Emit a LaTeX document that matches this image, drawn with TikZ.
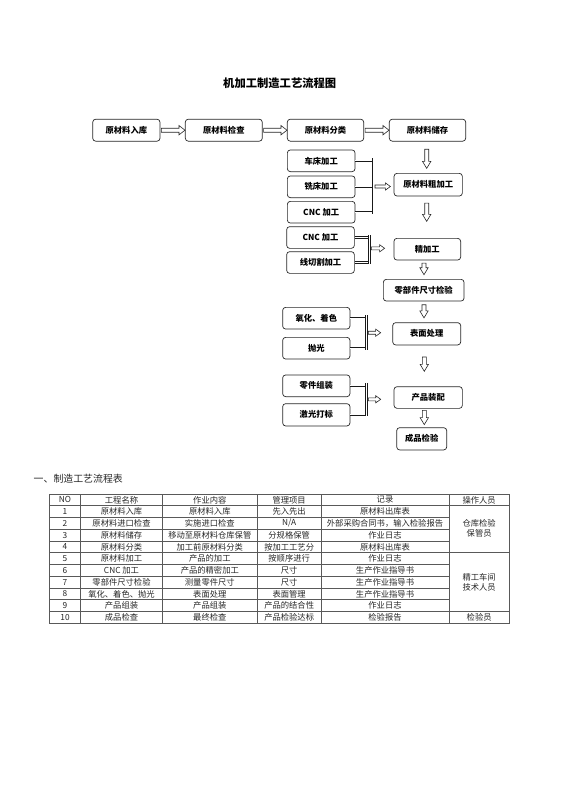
\documentclass[tikz,border=0pt]{standalone}
\usepackage{fontspec}
\setmainfont{Noto Sans CJK SC}
\usetikzlibrary{calc}
\def\mynatext{N/A}
\begin{document}
\begin{tikzpicture}[x=1pt,y=-1pt,
  box/.style={draw=black!85, line width=0.7pt, rounded corners=3pt, fill=white,
    font=\bfseries\fontsize{8.3}{9}\selectfont, inner sep=0pt, align=center, minimum height=22pt},
  dbl/.style={draw=black!90, line width=0.8pt, double=white, double distance=0.9pt},
  harrow/.style={draw=black!85, line width=0.6pt, fill=white, to path={
    let \p1=(\tikztostart), \p2=(\tikztotarget) in
    (\x1,\y1+2pt) -- (\x2-6pt,\y1+2pt) -- (\x2-6pt,\y1+4.7pt) -- (\x2,\y1)
    -- (\x2-6pt,\y1-4.7pt) -- (\x2-6pt,\y1-2pt) -- (\x1,\y1-2pt) -- cycle}},
  sarrow/.style={draw=black!85, line width=0.6pt, fill=white, to path={
    let \p1=(\tikztostart), \p2=(\tikztotarget) in
    (\x1,\y1+1.5pt) -- (\x2-5pt,\y1+1.5pt) -- (\x2-5pt,\y1+3.6pt) -- (\x2,\y1)
    -- (\x2-5pt,\y1-3.6pt) -- (\x2-5pt,\y1-1.5pt) -- (\x1,\y1-1.5pt) -- cycle}},
  varrow/.style={draw=black!85, line width=0.6pt, fill=white, to path={
    let \p1=(\tikztostart), \p2=(\tikztotarget) in
    (\x1-2pt,\y1) -- (\x1-2pt,\y2+7pt) -- (\x1-4.2pt,\y2+7pt) -- (\x1,\y2)
    -- (\x1+4.2pt,\y2+7pt) -- (\x1+2pt,\y2+7pt) -- (\x1+2pt,\y1) -- cycle}},
  tline/.style={draw=black!65, line width=0.6pt},
  ttext/.style={text=black!85, font=\fontsize{8.3}{10}\selectfont, inner sep=0pt, align=center}
]
\useasboundingbox (0,0) rectangle (560,792);

% title
\node[font=\bfseries\fontsize{11.3}{13}\selectfont] (title) at (279.7,83.3) {机加工制造工艺流程图};

% row 1
\node[box, minimum width=67.3pt] (b1) at (126.35,130.2) {原材料入库};
\node[box, minimum width=77pt]   (b2) at (223.8,130.2) {原材料检查};
\node[box, minimum width=76.4pt] (b3) at (325.5,130.2) {原材料分类};
\node[box, minimum width=76.4pt] (b4) at (427.5,130.2) {原材料储存};

% left column
\node[box, minimum width=67.7pt, minimum height=21.7pt] (c1) at (321.2,160.8) {车床加工};
\node[box, minimum width=67.7pt, minimum height=21.7pt] (c2) at (321.2,186.8) {铣床加工};
\node[box, minimum width=67.7pt, minimum height=21.7pt] (c3) at (321.2,212.2) {CNC 加工};
\node[box, minimum width=67.7pt, minimum height=21.7pt] (c4) at (320.5,237.5) {CNC 加工};
\node[box, minimum width=67.7pt, minimum height=21.7pt] (c5) at (320.5,262.5) {线切割加工};
\node[box, minimum width=67.3pt, minimum height=21.7pt] (c6) at (316.3,318.2) {氧化、着色};
\node[box, minimum width=67.3pt, minimum height=21.7pt] (c7) at (316.3,348.2) {抛光};
\node[box, minimum width=67.3pt, minimum height=21.7pt] (c8) at (316.3,385.8) {零件组装};
\node[box, minimum width=67.3pt, minimum height=22.3pt] (c9) at (316.3,414.8) {激光打标};

% right column
\node[box, minimum width=68.3pt, minimum height=22.7pt] (r1) at (428.2,184.7) {原材料粗加工};
\node[box, minimum width=66.7pt, minimum height=21.7pt] (r2) at (427.3,249.2) {精加工};
\node[box, minimum width=80.7pt, minimum height=21.7pt] (r3) at (423.7,290.2) {零部件尺寸检验};
\node[box, minimum width=68pt,   minimum height=22.3pt] (r4) at (426.7,333.8) {表面处理};
\node[box, minimum width=68.3pt, minimum height=21.7pt] (r5) at (428.2,397.5) {产品装配};
\node[box, minimum width=50pt,   minimum height=22.3pt] (r6) at (421.7,438.8) {成品检验};

% row 1 arrows
\draw[harrow] ($(b1.east)+(1,0)$) to (b2.west);
\draw[harrow] ($(b2.east)+(1,0)$) to (b3.west);
\draw[harrow] ($(b3.east)+(1,0)$) to (b4.west);

% down arrows
\draw[varrow] ($(b4.south)+(-0.8,7.7)$) to ($(r1.north)+(-1.5,-4.6)$);
\draw[varrow] ($(r1.south)+(-1.5,6.7)$) to ($(r2.north)+(-0.6,-16.6)$);
\draw[varrow] ($(r2.south)+(-3.3,2.7)$) to ($(r3.north)+(0.3,-4.3)$);
\draw[varrow] ($(r3.south)+(0.3,3.3)$) to ($(r4.north)+(-2.4,-4.4)$);
\draw[varrow] ($(r4.south)+(-2.4,11.7)$) to ($(r5.north)+(-3.9,-15)$);
\draw[varrow] ($(r5.south)+(-3.9,1.7)$) to ($(r6.north)+(2.6,-2.7)$);

% bracket group 1
\coordinate (k1) at (373,186.5);
\draw[dbl] (c1.east) -- (c1.east -| k1);
\draw[dbl] (c2.east) -- (c2.east -| k1);
\draw[dbl] (c3.east) -- (c3.east -| k1);
\draw[dbl] ($(c1.east -| k1)+(0,-2.5)$) -- ($(c3.east -| k1)+(0,2)$);
\draw[sarrow] ($(k1)+(2,0)$) to ($(k1 -| r1.west)+(-3.3,0)$);

% bracket group 2
\coordinate (k2) at (369.3,248.3);
\draw[dbl] (c4.east) -- (c4.east -| k2);
\draw[dbl] (c5.east) -- (c5.east -| k2);
\draw[dbl] ($(c4.east -| k2)+(0,-2.5)$) -- ($(c5.east -| k2)+(0,1.5)$);
\draw[sarrow] ($(k2)+(2,0)$) to ($(k2 -| r2.west)+(-9,0)$);

% bracket group 3
\coordinate (k3) at (366.3,332.7);
\draw[dbl] (c6.east) -- (c6.east -| k3);
\draw[dbl] (c7.east) -- (c7.east -| k3);
\draw[dbl] ($(c6.east -| k3)+(0,-3)$) -- ($(c7.east -| k3)+(0,1.5)$);
\draw[sarrow] ($(k3)+(2,0)$) to ($(k3 -| r4.west)+(-11.7,0)$);

% bracket group 4
\coordinate (k4) at (366.3,399.3);
\draw[dbl] (c8.east) -- (c8.east -| k4);
\draw[dbl] (c9.east) -- (c9.east -| k4);
\draw[dbl] ($(c8.east -| k4)+(0,-3)$) -- ($(c9.east -| k4)+(0,1.5)$);
\draw[sarrow] ($(k4)+(2,0)$) to ($(k4 -| r5.west)+(-13,0)$);

% heading
\node[anchor=west, inner sep=0pt, text=black!85, font=\fontsize{9.9}{11}\selectfont] (head) at (33.5,478.3) {一、制造工艺流程表};

% table grid
\draw[tline] (49.3,494) rectangle (509.3,623.25);
\foreach \x in {80.7,162.3,257.3,321,449} \draw[tline] (\x,494) -- (\x,623.25);
\foreach \k in {1,5,10} \draw[tline] (49.3,{494+\k*11.75}) -- (509.3,{494+\k*11.75});
\foreach \k in {2,3,4,6,7,8,9} \draw[tline] (49.3,{494+\k*11.75}) -- (449,{494+\k*11.75});

% header
\node[ttext] (h1) at (65,499.9) {NO};
\node[ttext] (h2) at (121.5,499.9) {工程名称};
\node[ttext] (h3) at (209.8,499.9) {作业内容};
\node[ttext] (h4) at (289.15,499.9) {管理项目};
\node[ttext] (h5) at (385,499.9) {记录};
\node[ttext] (h6) at (479.15,499.9) {操作人员};

% rows
\foreach \n/\a/\b/\c/\d [count=\i] in {
  1/原材料入库/原材料入库/先入先出/原材料出库表,
  2/原材料进口检查/实施进口检查/\mynatext/外部采购合同书，输入检验报告,
  3/原材料储存/移动至原材料仓库保管/分规格保管/作业日志,
  4/原材料分类/加工前原材料分类/按加工工艺分/原材料出库表,
  5/原材料加工/产品的加工/按顺序进行/作业日志,
  6/CNC 加工/产品的精密加工/尺寸/生产作业指导书,
  7/零部件尺寸检验/测量零件尺寸/尺寸/生产作业指导书,
  8/氧化、着色、抛光/表面处理/表面管理/生产作业指导书,
  9/产品组装/产品组装/产品的结合性/作业日志,
  10/成品检查/最终检查/产品检验达标/检验报告}
{
  \node[ttext] (t\i-1) at (65,{494+\i*11.75+5.9}) {\n};
  \node[ttext] (t\i-2) at (121.5,{494+\i*11.75+5.9}) {\a};
  \node[ttext] (t\i-3) at (209.8,{494+\i*11.75+5.9}) {\b};
  \node[ttext] (t\i-4) at (289.15,{494+\i*11.75+5.9}) {\c};
  \node[ttext] (t\i-5) at (385,{494+\i*11.75+5.9}) {\d};
}

% merged cells
\node[ttext] (op1) at (479.15,528.3) {仓库检验\\保管员};
\node[ttext] (op2) at (479.15,582.3) {精工车间\\技术人员};
\node[ttext] (op3) at (479.15,617.4) {检验员};
\end{tikzpicture}
\end{document}
